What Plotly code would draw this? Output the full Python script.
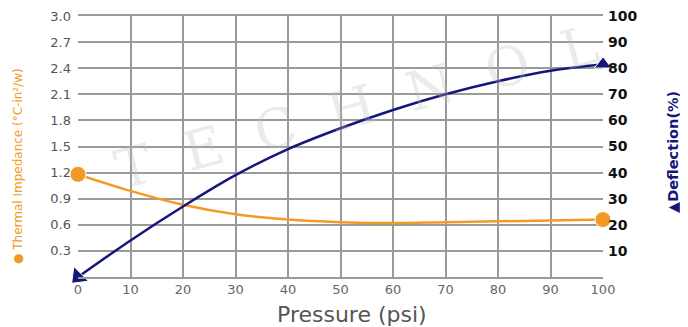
import plotly.graph_objects as go

pressure = [0, 10, 20, 30, 40, 50, 60, 70, 80, 90, 100]
impedance = [1.18, 0.99, 0.83, 0.72, 0.66, 0.63, 0.62, 0.63, 0.64, 0.65, 0.66]
deflection = [0, 14, 27, 39, 49, 57, 64, 70, 75, 79, 81.5]

orange = '#F39A26'
navy = '#16167A'

fig = go.Figure()

fig.add_trace(go.Scatter(
    x=pressure, y=impedance, mode='lines+markers', line_shape='spline',
    line=dict(color=orange, width=2.5),
    marker=dict(color=orange, size=[16] + [0] * 9 + [16], opacity=1),
    yaxis='y', showlegend=False, cliponaxis=False))

fig.add_trace(go.Scatter(
    x=pressure, y=deflection, mode='lines+markers', line_shape='spline',
    line=dict(color=navy, width=2.5),
    marker=dict(color=navy, size=[18] + [0] * 9 + [15], opacity=1,
                symbol=['triangle-down'] + ['circle'] * 9 + ['triangle-up'],
                angle=[45] + [0] * 10),
    yaxis='y2', showlegend=False, cliponaxis=False))

# faint watermark
fig.add_annotation(text='T  E  C  H  N  O  L', x=53, y=1.95, xref='x', yref='y',
                   textangle=-15, showarrow=False,
                   font=dict(family='DejaVu Serif', size=54, color='rgba(190,190,190,0.3)'))

# axis titles placed as annotations to match the original offsets
fig.add_annotation(text='Pressure (psi)', xref='paper', yref='paper', x=0.522, y=0,
                   xanchor='center', yanchor='middle', yshift=-37, showarrow=False,
                   font=dict(size=22, color='#555'))
fig.add_annotation(text='● Thermal Impedance (°C-in²/w)', xref='paper', yref='paper',
                   x=0, y=0.425, xshift=-60, xanchor='center', yanchor='middle',
                   textangle=-90, showarrow=False, font=dict(size=12, color=orange))
fig.add_annotation(text='▲Deflection(%)', xref='paper', yref='paper',
                   x=1, y=0.479, xshift=70, xanchor='center', yanchor='middle',
                   textangle=-90, showarrow=False,
                   font=dict(size=14.5, color=navy, weight='bold'))

fig.update_layout(
    width=680, height=319,
    margin=dict(l=70, r=85, t=8, b=50),
    paper_bgcolor='white', plot_bgcolor='white',
    font=dict(family='DejaVu Sans', color='#555'),
    xaxis=dict(range=[0, 100], tickvals=pressure, showgrid=True, gridcolor='#9a9a9a',
               gridwidth=1.5, zeroline=False, showline=True, linecolor='#9a9a9a', mirror=True,
               linewidth=1.5, tickfont=dict(size=13, color='#666'), automargin=False),
    yaxis=dict(range=[0, 3.0], tickvals=[0.3, 0.6, 0.9, 1.2, 1.5, 1.8, 2.1, 2.4, 2.7, 3.0],
               ticktext=['0.3', '0.6', '0.9', '1.2', '1.5', '1.8', '2.1', '2.4', '2.7', '3.0'],
               showgrid=True, gridcolor='#9a9a9a', gridwidth=1.5, zeroline=False,
               tickfont=dict(size=13, color='#555'), ticklabelstandoff=6, automargin=False,
               ticklabeloverflow='allow'),
    yaxis2=dict(range=[0, 100], overlaying='y', side='right',
                tickvals=[10, 20, 30, 40, 50, 60, 70, 80, 90, 100],
                showgrid=False, zeroline=False, automargin=False,
                ticklabeloverflow='allow',
                tickfont=dict(size=14, color='#111', weight='bold'), ticklabelstandoff=4),
)

fig.write_html("out.html")
